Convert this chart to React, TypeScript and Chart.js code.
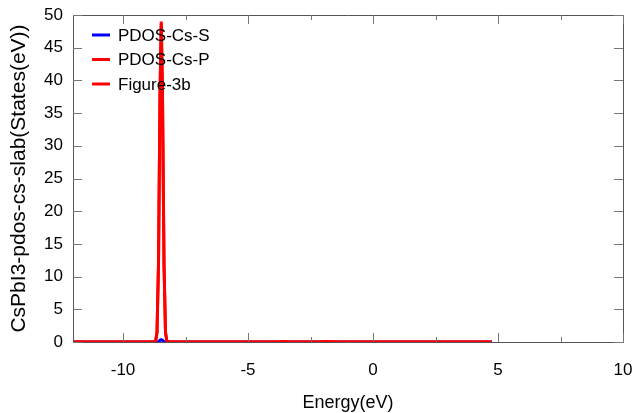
import React, { useEffect, useRef } from "react";
import { Chart, registerables } from "chart.js";

Chart.register(...registerables);

const ENERGY = [-12, -8.7, -8.64, -8.58, -8.52, -8.47, -8.42, -8.36, -8.3, -8.24, -3.8, -3.6, -3.4, -2.1, -1.9, -1.7, -1.5, 4.75];
const PDOS_CS_S = [0, 0, 0, 0.05, 0.25, 0.35, 0.25, 0.05, 0, 0, 0, 0, 0, 0, 0, 0, 0, 0];
const PDOS_CS_P = [0, 0, 1.5, 12, 38, 49, 38, 12, 1.5, 0, 0, 0.06, 0, 0, 0.08, 0.05, 0, 0];
const FIGURE_3B = [0, 0, 1.4, 11.8, 37.5, 48.7, 37.6, 11.9, 1.4, 0, 0, 0.05, 0, 0, 0.07, 0.04, 0, 0];

const X_TICKS = [-10, -5, 0, 5, 10];
const X_MINOR_TICKS = [-7.5, -2.5, 2.5, 7.5];
const Y_TICKS = [0, 5, 10, 15, 20, 25, 30, 35, 40, 45, 50];

const LABELS = ["PDOS-Cs-S", "PDOS-Cs-P", "Figure-3b"];
const COLORS = ["#0000ff", "#ff0000", "#ff0000"];
const SERIES = [PDOS_CS_S, PDOS_CS_P, FIGURE_3B];

const FONT = "'Liberation Sans', Arial, sans-serif";

const framePlugin = {
  id: "gnuplotFrame",
  afterDatasetsDraw(chart: any) {
    const { ctx, chartArea, scales } = chart;
    const { left, right, top, bottom } = chartArea;
    const xs = scales.x;
    const ys = scales.y;
    ctx.save();
    ctx.strokeStyle = "#555";
    ctx.lineWidth = 1;
    ctx.beginPath();
    ctx.rect(Math.round(left) + 0.5, Math.round(top) + 0.5, Math.round(right - left), Math.round(bottom - top));
    ctx.stroke();
    ctx.strokeStyle = "#777";
    ctx.beginPath();
    const drawX = (v: number, len: number) => {
      const px = Math.round(xs.getPixelForValue(v)) + 0.5;
      ctx.moveTo(px, bottom);
      ctx.lineTo(px, bottom - len);
      ctx.moveTo(px, top);
      ctx.lineTo(px, top + len);
    };
    X_TICKS.forEach((v) => drawX(v, 9));
    X_MINOR_TICKS.forEach((v) => drawX(v, 5));
    Y_TICKS.forEach((v) => {
      const py = Math.round(ys.getPixelForValue(v)) + 0.5;
      ctx.moveTo(left, py);
      ctx.lineTo(left + 9, py);
      ctx.moveTo(right, py);
      ctx.lineTo(right - 9, py);
    });
    ctx.stroke();
    // legend
    const startY = 35;
    const gap = 24.5;
    chart.data.datasets.forEach((ds: any, i: number) => {
      const y = startY + i * gap;
      ctx.strokeStyle = ds.borderColor;
      ctx.lineWidth = 3;
      ctx.beginPath();
      ctx.moveTo(92, y);
      ctx.lineTo(110, y);
      ctx.stroke();
      ctx.fillStyle = "#000";
      ctx.font = `17px ${FONT}`;
      ctx.textBaseline = "middle";
      ctx.textAlign = "left";
      ctx.fillText(ds.label, 118, y + 1);
    });
    ctx.restore();
  },
};

export default function App() {
  const ref = useRef<HTMLCanvasElement>(null);
  useEffect(() => {
    if (!ref.current) return;
    const datasets = SERIES.map((s, i) => ({
      label: LABELS[i],
      data: ENERGY.map((e, j) => ({ x: e, y: s[j] })),
      borderColor: COLORS[i],
      backgroundColor: COLORS[i],
      borderWidth: 3,
      pointRadius: 0,
      tension: 0,
      fill: false,
      order: i === 0 ? 3 : i,
    }));
    const chart = new Chart(ref.current, {
      type: "line",
      data: { datasets },
      plugins: [framePlugin],
      options: {
        responsive: false,
        animation: false,
        layout: { padding: { left: 0, right: 16, top: 15, bottom: 0 } },
        plugins: { legend: { display: false }, tooltip: { enabled: false } },
        scales: {
          x: {
            type: "linear",
            min: -12,
            max: 10,
            grid: { display: false, drawTicks: false },
            border: { display: false },
            afterBuildTicks: (scale: any) => {
              scale.ticks = X_TICKS.map((v) => ({ value: v }));
            },
            afterFit: (scale: any) => {
              scale.height = 71;
              scale.paddingLeft = 0;
              scale.paddingRight = 0;
            },
            ticks: { color: "#000", font: { family: FONT, size: 17 }, padding: 18, maxRotation: 0, autoSkip: false },
            title: { display: true, text: "Energy(eV)", color: "#000", font: { family: FONT, size: 18 }, padding: { top: 0, bottom: -1 } },
          },
          y: {
            type: "linear",
            min: 0,
            max: 50,
            grid: { display: false, drawTicks: false },
            border: { display: false },
            afterBuildTicks: (scale: any) => {
              scale.ticks = Y_TICKS.map((v) => ({ value: v }));
            },
            afterFit: (scale: any) => {
              scale.width = 73;
              scale.paddingTop = 0;
              scale.paddingBottom = 0;
            },
            ticks: { color: "#000", font: { family: FONT, size: 17 }, padding: 10, autoSkip: false },
            title: { display: true, text: "CsPbI3-pdos-cs-slab(States(eV))", color: "#000", font: { family: FONT, size: 21 }, padding: { top: 7, bottom: 0 } },
          },
        },
      },
    } as any);
    return () => chart.destroy();
  }, []);
  return (
    <div style={{ position: "absolute", left: 0, top: 0, width: 639, height: 413, background: "#fff" }}>
      <canvas ref={ref} width={639} height={413} style={{ display: "block" }} />
    </div>
  );
}
